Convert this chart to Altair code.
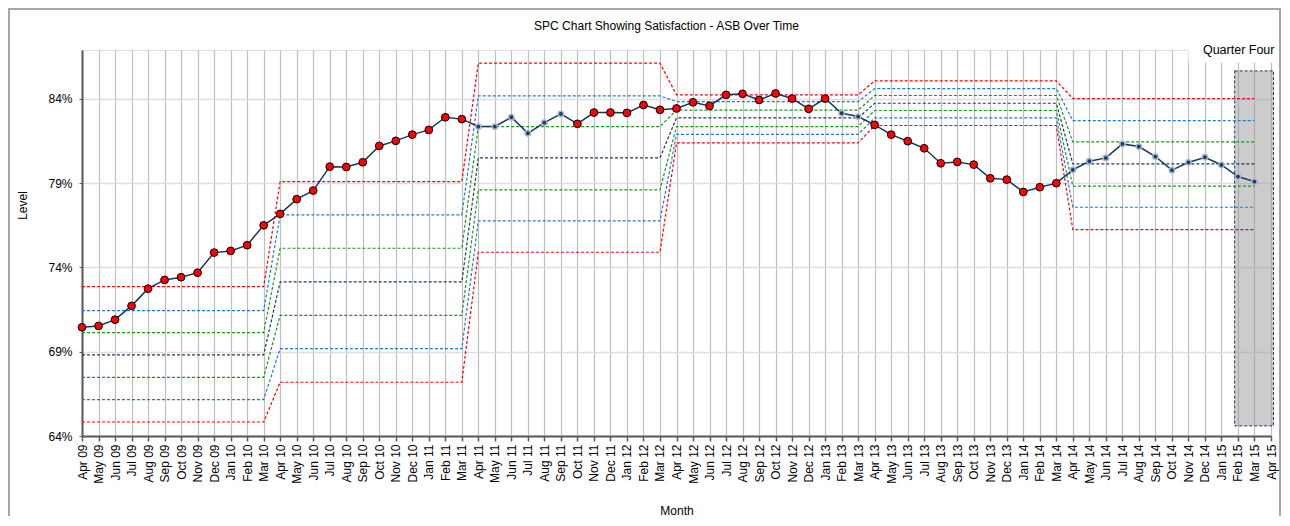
import altair as alt
import pandas as pd

months = ["Apr 09", "May 09", "Jun 09", "Jul 09", "Aug 09", "Sep 09", "Oct 09", "Nov 09", "Dec 09",
          "Jan 10", "Feb 10", "Mar 10", "Apr 10", "May 10", "Jun 10", "Jul 10", "Aug 10", "Sep 10",
          "Oct 10", "Nov 10", "Dec 10", "Jan 11", "Feb 11", "Mar 11", "Apr 11", "May 11", "Jun 11",
          "Jul 11", "Aug 11", "Sep 11", "Oct 11", "Nov 11", "Dec 11", "Jan 12", "Feb 12", "Mar 12",
          "Apr 12", "May 12", "Jun 12", "Jul 12", "Aug 12", "Sep 12", "Oct 12", "Nov 12", "Dec 12",
          "Jan 13", "Feb 13", "Mar 13", "Apr 13", "May 13", "Jun 13", "Jul 13", "Aug 13", "Sep 13",
          "Oct 13", "Nov 13", "Dec 13", "Jan 14", "Feb 14", "Mar 14", "Apr 14", "May 14", "Jun 14",
          "Jul 14", "Aug 14", "Sep 14", "Oct 14", "Nov 14", "Dec 14", "Jan 15", "Feb 15", "Mar 15",
          "Apr 15"]

satisfaction = [70.45, 70.53, 70.90, 71.72, 72.74, 73.26, 73.42, 73.69, 74.88,
                74.98, 75.32, 76.50, 77.18, 78.05, 78.56, 79.98, 79.96, 80.24,
                81.21, 81.51, 81.88, 82.16, 82.91, 82.80, 82.36, 82.36, 82.91,
                81.96, 82.59, 83.11, 82.52, 83.19, 83.19, 83.17, 83.64, 83.35,
                83.43, 83.80, 83.58, 84.24, 84.30, 83.94, 84.32, 84.02, 83.41,
                84.02, 83.15, 82.95, 82.46, 81.88, 81.49, 81.07, 80.18, 80.26,
                80.10, 79.29, 79.21, 78.48, 78.76, 79.00, 79.79, 80.30, 80.50,
                81.33, 81.17, 80.58, 79.77, 80.23, 80.54, 80.08, 79.39, 79.09]

# months whose point is plotted as an ordinary (in-control) marker
in_control = ["Apr 11", "May 11", "Jun 11", "Jul 11", "Aug 11", "Sep 11", "Feb 13", "Mar 13",
              "Apr 14", "May 14", "Jun 14", "Jul 14", "Aug 14", "Sep 14", "Oct 14", "Nov 14",
              "Dec 14", "Jan 15", "Feb 15", "Mar 15"]

# control limits, one value per financial year (Apr-Mar)
ucl   = [72.86, 79.09, 86.12, 84.24, 85.07, 84.02]
upper2 = [71.44, 77.12, 84.18, 83.84, 84.61, 82.71]
upper1 = [70.13, 75.14, 82.36, 83.33, 84.20, 81.45]
mean  = [68.81, 73.14, 80.50, 82.87, 83.74, 80.14]
lower1 = [67.48, 71.16, 78.60, 82.36, 83.31, 78.82]
lower2 = [66.16, 69.18, 76.76, 81.90, 82.87, 77.57]
lcl   = [64.83, 67.19, 74.90, 81.39, 82.42, 76.24]

limit_names = ["UCL", "Upper 2", "Upper 1", "Mean", "Lower 1", "Lower 2", "LCL"]
limit_colors = ["#FF0000", "#1F7BD0", "#1A961A", "#1F3864", "#1A961A", "#1F7BD0", "#FF0000"]

# highlighted quarter box (in data units)
box_start, box_end = 69.8, 72.15
box_top, box_bottom = 85.66, 64.6
box_label = "Quarter Four"

n = len(satisfaction)
pts = pd.DataFrame({
    "idx": list(range(n)),
    "month": months[:n],
    "value": satisfaction,
})
pts["flag"] = ["normal" if m in in_control else "signal" for m in pts["month"]]

rows = []
for name, segs in zip(limit_names, [ucl, upper2, upper1, mean, lower1, lower2, lcl]):
    for i in range(n):
        rows.append({"idx": i, "value": segs[i // 12], "series": name})
limits = pd.DataFrame(rows)

FONT = "Liberation Sans"
YMIN, YMAX = 64, 86.9
label_js = "[" + ",".join("'%s'" % m for m in months) + "][datum.value]"

x_axis = alt.Axis(values=list(range(len(months))), labelExpr=label_js, labelAngle=-90,
                  labelFontSize=12, labelFont=FONT, labelColor="#000000", labelPadding=3,
                  grid=True, gridColor="#BFBFBF", gridWidth=1.2,
                  domainColor="#595959", domainWidth=2, tickColor="#595959", tickSize=5,
                  tickWidth=1.5, title="Month", titleFont=FONT, titleFontSize=12,
                  titleFontWeight="normal", titleColor="#000000", titleY=74,
                  titleBaseline="middle")
y_axis = alt.Axis(values=[64, 69, 74, 79, 84], labelExpr="datum.value + '%'",
                  labelFontSize=12, labelFont=FONT, labelColor="#000000", labelPadding=7,
                  grid=True, gridColor="#DDDDDD", gridWidth=1.6,
                  domainColor="#595959", domainWidth=2, tickColor="#595959", tickSize=3,
                  title="Level", titleFont=FONT, titleFontSize=12, titleFontWeight="normal",
                  titleColor="#000000", titleX=-53, titleY=155)

x_scale = alt.Scale(domain=[0, len(months) - 1], nice=False, zero=False)
y_scale = alt.Scale(domain=[YMIN, YMAX], nice=False, zero=False)


def X(field):
    return alt.X(field, type="quantitative", scale=x_scale, axis=x_axis, title="Month")


def Y(field):
    return alt.Y(field, type="quantitative", scale=y_scale, axis=y_axis, title="Level")


box_df = pd.DataFrame({"x": [box_start], "x2": [box_end], "y": [box_top], "y2": [box_bottom]})
box = alt.Chart(box_df).mark_rect(fill="#9A9A9A", fillOpacity=0.5, stroke="#1F3864",
                                  strokeDash=[3, 2], strokeWidth=1).encode(
    x=X("x"), x2="x2", y=Y("y"), y2="y2")

mask_df = pd.DataFrame({"x": [67.0], "x2": [72.4], "y": [YMAX], "y2": [86.14]})
mask = alt.Chart(mask_df).mark_rect(fill="white").encode(x=X("x"), x2="x2", y=Y("y"), y2="y2")

label_df = pd.DataFrame({"x": [box_end], "y": [YMAX], "t": [box_label]})
label = alt.Chart(label_df).mark_text(align="right", baseline="middle", font=FONT, fontSize=12.5,
                                      color="#000000", dx=1).encode(
    x=X("x"), y=Y("y"), text="t")

lim = alt.Chart(limits).mark_line(strokeDash=[3, 2], strokeWidth=1.2).encode(
    x=X("idx"), y=Y("value"),
    color=alt.Color("series:N", scale=alt.Scale(domain=limit_names, range=limit_colors),
                    legend=None),
    detail="series:N")

line = alt.Chart(pts).mark_line(color="#17375E", strokeWidth=1.5).encode(x=X("idx"), y=Y("value"))

red_pts = alt.Chart(pts).transform_filter("datum.flag == 'signal'").mark_point(
    shape="circle", filled=True, fill="#FF0000", stroke="#000000", strokeWidth=1,
    size=60, opacity=1).encode(x=X("idx"), y=Y("value"))

norm_pts = alt.Chart(pts).transform_filter("datum.flag == 'normal'").mark_point(
    shape="circle", filled=True, fill="#1F3864", stroke="#9FB6CD", strokeWidth=1.5,
    size=28, opacity=1).encode(x=X("idx"), y=Y("value"))

frame = alt.Chart(pts).mark_rect(filled=False, stroke="#A6A6A6", strokeWidth=1.5).encode(
    x=alt.value(-73), x2=alt.value(1198), y=alt.value(-41), y2=alt.value(600))

chart = alt.layer(box, mask, lim, line, red_pts, norm_pts, label, frame).properties(
    width=1189, height=386,
    title=alt.TitleParams("SPC Chart Showing Satisfaction - ASB Over Time", font=FONT,
                          fontSize=12, fontWeight="normal", color="#000000",
                          anchor="middle", dx=-10, offset=0, dy=25),
    autosize=alt.AutoSizeParams(type="none"),
    padding={"left": 74, "top": 42, "right": 11, "bottom": 80},
).configure_view(stroke=None).configure(background="white")

chart.save("out.html", embed_options={"renderer": "svg", "actions": False})
